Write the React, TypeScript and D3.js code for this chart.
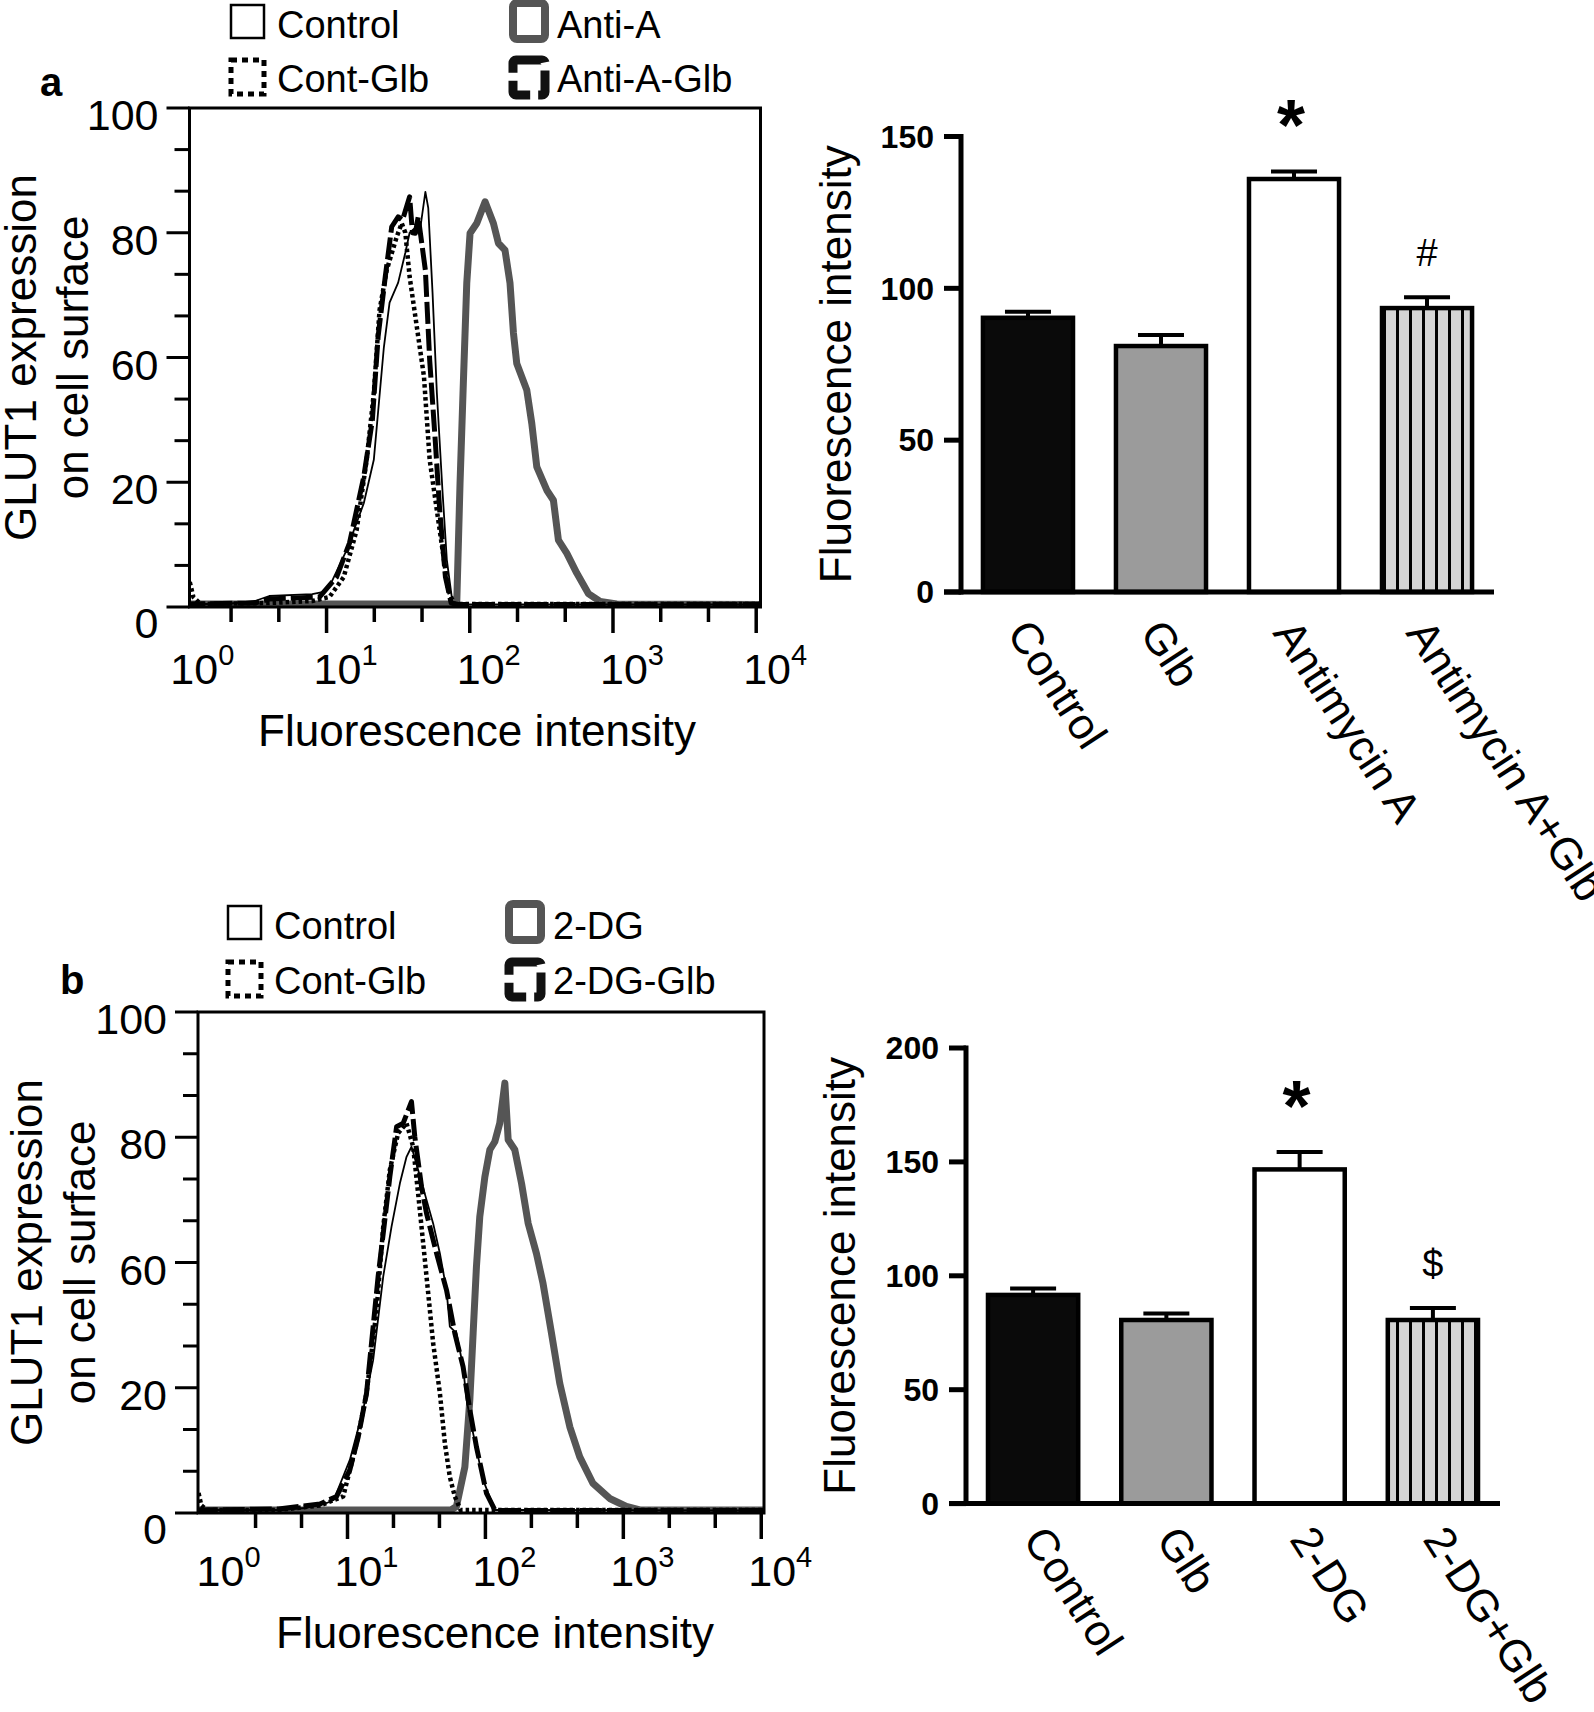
import * as d3 from "d3";

type Pt = [number, number];

const FONT = "'Liberation Sans', Arial, Helvetica, sans-serif";

// flow histograms, points are [log10 fluorescence, count]
const controlA: Pt[] = [
  [0.0, 0.6], [0.3, 0.6], [0.5, 1.2], [0.6, 2.2], [0.9, 2.6], [0.97, 3.0], [1.02, 4.1],
  [1.14, 11.4], [1.26, 20.8], [1.33, 29.5], [1.4, 52], [1.44, 61], [1.5, 65], [1.55, 71],
  [1.58, 75], [1.62, 76], [1.65, 75], [1.69, 83.2], [1.71, 80], [1.74, 63], [1.77, 43],
  [1.81, 23], [1.84, 9.4], [1.88, 0.8], [1.95, 0.5], [4.1, 0.5],
];
const contGlbA: Pt[] = [
  [0.045, 5], [0.07, 2], [0.12, 0.6], [0.6, 0.8], [0.9, 1.2], [1.02, 2], [1.12, 6],
  [1.21, 15.4], [1.28, 29.5], [1.33, 42.9], [1.37, 59.5], [1.42, 67.5], [1.49, 74.2],
  [1.525, 76.9], [1.55, 75], [1.58, 66.2], [1.63, 56.2], [1.68, 46.2], [1.72, 29.5],
  [1.77, 19.4], [1.82, 9.4], [1.85, 3.4], [1.89, 0.6], [4.1, 0.6],
];
const antiA: Pt[] = [
  [0.0, 0.6], [1.85, 0.6], [1.909, 0.7], [1.932, 24.8], [1.955, 44.8], [1.979, 64.9],
  [2.002, 74.9], [2.049, 76.9], [2.107, 81.2], [2.165, 76.9], [2.2, 72.9], [2.246, 71.5],
  [2.281, 64.9], [2.305, 54.9], [2.328, 48.8], [2.398, 43.5], [2.433, 36.8], [2.468, 28.1],
  [2.538, 23.4], [2.584, 21.4], [2.619, 13.4], [2.677, 10.8], [2.747, 6.8], [2.828, 2.7],
  [2.91, 1.1], [3.026, 0.6], [4.1, 0.5],
];
const antiGlbA: Pt[] = [
  [0.0, 0.6], [0.5, 0.8], [0.6, 1.6], [0.95, 2.0], [1.07, 6], [1.16, 12.8], [1.26, 26.1],
  [1.32, 37.5], [1.36, 54.2], [1.41, 66.2], [1.455, 76.2], [1.5, 78.2], [1.53, 77.5],
  [1.58, 82.2], [1.6, 75], [1.62, 74.9], [1.64, 78.2], [1.69, 67.5], [1.72, 49.5],
  [1.76, 32.9], [1.79, 19.4], [1.83, 6], [1.87, 0.8], [1.92, 0.5], [4.1, 0.5],
];

const controlB: Pt[] = [
  [-0.1, 0.6], [0.5, 0.6], [0.7, 1.0], [0.85, 2.0], [0.9, 2.6], [1.017, 10.6], [1.114, 20.6],
  [1.186, 30.5], [1.259, 47.2], [1.319, 57.1], [1.38, 65.8], [1.428, 71.1], [1.464, 73.1],
  [1.512, 68.5], [1.573, 62.5], [1.621, 57.8], [1.67, 51.8], [1.718, 44.5], [1.742, 37.2],
  [1.79, 35.9], [1.838, 29.2], [1.863, 22.6], [1.911, 15.9], [1.983, 6.6], [2.068, 0.6],
  [4.1, 0.5],
];
const contGlbB: Pt[] = [
  [-0.08, 4], [-0.06, 1.5], [-0.02, 0.6], [0.5, 0.6], [0.8, 1.5], [0.969, 3.3], [1.066, 13.9],
  [1.138, 23.9], [1.211, 40.5], [1.259, 57.1], [1.307, 68.5], [1.367, 75.8], [1.428, 77.8],
  [1.476, 73.1], [1.512, 63.8], [1.549, 53.8], [1.585, 43.9], [1.621, 33.9], [1.67, 23.9],
  [1.706, 13.9], [1.742, 7.2], [1.778, 3.3], [1.82, 0.6], [4.1, 0.6],
];
const dgB: Pt[] = [
  [-0.1, 0.6], [1.75, 0.6], [1.79, 1.3], [1.851, 9.2], [1.887, 22.6], [1.911, 35.9],
  [1.935, 49.2], [1.959, 59.1], [1.996, 67.1], [2.032, 72.5], [2.068, 74.1], [2.104, 77.8],
  [2.141, 85.8], [2.165, 74.5], [2.213, 72.5], [2.262, 65.8], [2.31, 57.8], [2.37, 51.8],
  [2.418, 45.8], [2.479, 35.9], [2.539, 25.9], [2.612, 17.2], [2.684, 11.2], [2.78, 5.9],
  [2.901, 2.9], [3.022, 1.3], [3.12, 0.6], [4.1, 0.6],
];
const dgGlbB: Pt[] = [
  [-0.1, 0.6], [0.5, 0.8], [0.8, 1.8], [0.921, 3.3], [1.017, 8.6], [1.078, 15.2],
  [1.138, 23.9], [1.186, 37.2], [1.222, 47.2], [1.259, 55.8], [1.307, 67.1], [1.356, 77.1],
  [1.404, 77.8], [1.464, 82.1], [1.488, 75.1], [1.537, 65.1], [1.573, 59.8], [1.646, 51.8],
  [1.718, 44.5], [1.778, 35.9], [1.838, 29.2], [1.887, 20.6], [1.935, 13.2], [2.008, 3.9],
  [2.07, 0.5], [4.1, 0.5],
];

const legendA = ["Control", "Cont-Glb", "Anti-A", "Anti-A-Glb"];
const legendB = ["Control", "Cont-Glb", "2-DG", "2-DG-Glb"];

// five evenly spaced major ticks, labelled as printed on the figure
const histYTicks = [0, 25, 50, 75, 100];
const histYLabels = ["0", "20", "60", "80", "100"];

const barCatsA = ["Control", "Glb", "Antimycin A", "Antimycin A+Glb"];
const barMeansA = [90.3, 81, 136, 93.5];
const barErrA = [2, 3.6, 2.5, 3.6];
const barMarksA = ["", "", "*", "#"];
const barTicksA = [0, 50, 100, 150];

const barCatsB = ["Control", "Glb", "2-DG", "2-DG+Glb"];
const barMeansB = [91.6, 80.6, 146.7, 80.6];
const barErrB = [2.8, 2.8, 7.6, 5.3];
const barMarksB = ["", "", "*", "$"];
const barTicksB = [0, 50, 100, 150, 200];

const barFills = ["#0a0a0a", "#9b9b9b", "#ffffff", "url(#stripes)"];

// control, +Glb, treated, treated+Glb
const traceStyle = [
  { stroke: "#000", width: 1.8, dash: undefined },
  { stroke: "#000", width: 4.5, dash: "3.5 3" },
  { stroke: "#555", width: 7, dash: undefined },
  { stroke: "#000", width: 5, dash: "22 5" },
];
const drawOrder = [2, 3, 1, 0];

type HistProps = {
  id: string;
  letter: string;
  letterX: number;
  letterY: number;
  traces: Pt[][];
  legend: string[];
  legendX: number[];
  legendY: number[];
  left: number;
  right: number;
  top: number;
  bottom: number;
  expLo: number;
  expHi: number;
  yTitleX: number[];
  xTitleX: number;
  xTitleY: number;
  xLabelY: number;
};

const LegendIcon = ({ i, x, y }: { i: number; x: number; y: number }) => {
  if (i === 0)
    return <rect x={x + 2} y={y} width={33} height={33} fill="#fff" stroke="#000" strokeWidth={2.5} />;
  if (i === 1)
    return (
      <rect x={x + 2} y={y + 1} width={33} height={34} fill="none" stroke="#000" strokeWidth={5} strokeDasharray="6 5" />
    );
  if (i === 2)
    return (
      <rect x={x + 4} y={y - 2} width={32} height={36} rx={4} fill="none" stroke="#555" strokeWidth={8} />
    );
  return (
    <rect x={x + 4} y={y + 1} width={32} height={35} rx={3} fill="none" stroke="#111" strokeWidth={9} strokeDasharray="30 8" />
  );
};

const Histogram = (p: HistProps) => {
  const x = d3.scaleLog().domain([10 ** p.expLo, 10 ** p.expHi]).range([p.left, p.right]);
  const y = d3.scaleLinear().domain([0, 100]).range([p.bottom, p.top]);
  const line = d3
    .line<Pt>()
    .x((d) => x(10 ** d[0]))
    .y((d) => y(d[1]));

  const minorY = d3.range(13).filter((i) => i % 3).map((i) => (i * 25) / 3);
  const xTicks = d3
    .range(1, 13)
    .map((k) => ({ e: k / 3, major: k % 3 === 0 }))
    .filter((t) => t.e >= p.expLo && t.e <= p.expHi + 0.001);
  const decades = [0, 1, 2, 3, 4];
  const midY = (p.top + p.bottom) / 2;

  return (
    <g>
      <defs>
        <clipPath id={p.id}>
          <rect x={p.left} y={p.top} width={p.right - p.left} height={p.bottom - p.top} />
        </clipPath>
      </defs>

      {/* legend */}
      {p.legend.map((name, i) => {
        const col = i < 2 ? 0 : 1;
        const row = i % 2;
        const bx = p.legendX[col];
        const by = p.legendY[row];
        return (
          <g key={name + i}>
            <LegendIcon i={i} x={bx} y={by - 33} />
            <text x={bx + 48} y={by} fontSize={38}>
              {name}
            </text>
          </g>
        );
      })}

      <text x={p.letterX} y={p.letterY} fontSize={40} fontWeight="bold">
        {p.letter}
      </text>

      {/* traces */}
      <g clipPath={`url(#${p.id})`}>
        {drawOrder.map((i) => (
          <path
            key={i}
            d={line(p.traces[i]) || ""}
            fill="none"
            stroke={traceStyle[i].stroke}
            strokeWidth={traceStyle[i].width}
            strokeDasharray={traceStyle[i].dash}
            strokeLinejoin="round"
          />
        ))}
      </g>

      <rect
        x={p.left}
        y={p.top}
        width={p.right - p.left}
        height={p.bottom - p.top}
        fill="none"
        stroke="#000"
        strokeWidth={3}
      />

      {/* y axis */}
      {histYTicks.map((t, i) => (
        <g key={t}>
          <line x1={p.left - 23} x2={p.left} y1={y(t)} y2={y(t)} stroke="#000" strokeWidth={3} />
          <text
            x={p.left - 31}
            y={y(t) + (t === 0 ? 16 : 7)}
            dy="0.35em"
            textAnchor="end"
            fontSize={43}
          >
            {histYLabels[i]}
          </text>
        </g>
      ))}
      {minorY.map((t) => (
        <line key={t} x1={p.left - 15} x2={p.left} y1={y(t)} y2={y(t)} stroke="#000" strokeWidth={3} />
      ))}

      {/* x axis */}
      {xTicks.map((t) => (
        <line
          key={t.e}
          x1={x(10 ** t.e)}
          x2={x(10 ** t.e)}
          y1={p.bottom}
          y2={p.bottom + (t.major ? 26 : 15)}
          stroke="#000"
          strokeWidth={3.5}
        />
      ))}
      {decades.map((k) => (
        <text key={k} x={x(10 ** k) - 13} y={p.xLabelY} fontSize={43}>
          10
          <tspan dy={-19} fontSize={29}>
            {k}
          </tspan>
        </text>
      ))}

      <text x={p.xTitleX} y={p.xTitleY} textAnchor="middle" fontSize={44}>
        Fluorescence intensity
      </text>
      <text transform={`translate(${p.yTitleX[0]},${midY}) rotate(-90)`} textAnchor="middle" fontSize={44}>
        GLUT1 expression
      </text>
      <text transform={`translate(${p.yTitleX[1]},${midY}) rotate(-90)`} textAnchor="middle" fontSize={44}>
        on cell surface
      </text>
    </g>
  );
};

type BarProps = {
  cats: string[];
  means: number[];
  errs: number[];
  marks: string[];
  ticks: number[];
  axisX: number;
  right: number;
  top: number;
  base: number;
  titleX: number;
  catDx: number;
  catDy: number;
};

const BarPanel = (p: BarProps) => {
  const yMax = p.ticks[p.ticks.length - 1];
  const y = d3.scaleLinear().domain([0, yMax]).range([p.base, p.top]);
  const x = d3.scaleBand<string>().domain(p.cats).range([p.axisX, p.right]).paddingInner(0.323).paddingOuter(0.165);
  const bw = x.bandwidth();

  return (
    <g>
      {p.cats.map((c, i) => {
        const cx = (x(c) || 0) + bw / 2;
        const errTop = y(p.means[i] + p.errs[i]);
        const mark = p.marks[i];
        return (
          <g key={c}>
            <line x1={cx} x2={cx} y1={y(p.means[i])} y2={errTop} stroke="#000" strokeWidth={4} />
            <line x1={cx - 23} x2={cx + 23} y1={errTop} y2={errTop} stroke="#000" strokeWidth={4} />
            <rect
              x={x(c)}
              y={y(p.means[i])}
              width={bw}
              height={p.base - y(p.means[i])}
              fill={barFills[i]}
              stroke="#000"
              strokeWidth={4.5}
            />
            {mark === "*" && (
              <text x={cx - 3} y={errTop - 62 + 41} textAnchor="middle" fontSize={72} fontWeight="bold">
                *
              </text>
            )}
            {mark && mark !== "*" && (
              <text x={cx} y={errTop - 44 + 13} textAnchor="middle" fontSize={38}>
                {mark}
              </text>
            )}
            <text
              transform={`translate(${cx + p.catDx},${p.base + p.catDy}) rotate(57)`}
              fontSize={44}
            >
              {c}
            </text>
          </g>
        );
      })}

      <line x1={p.axisX} x2={p.axisX} y1={p.base} y2={p.top} stroke="#000" strokeWidth={5} strokeLinecap="square" />
      <line x1={p.axisX - 17} x2={p.right} y1={p.base} y2={p.base} stroke="#000" strokeWidth={5} />
      {p.ticks.map((t) => (
        <g key={t}>
          <line x1={p.axisX - 17} x2={p.axisX} y1={y(t)} y2={y(t)} stroke="#000" strokeWidth={5} />
          <text x={p.axisX - 27} y={y(t)} dy="0.35em" textAnchor="end" fontSize={32} fontWeight="bold">
            {t}
          </text>
        </g>
      ))}
      <text
        transform={`translate(${p.titleX},${(p.top + p.base) / 2}) rotate(-90)`}
        textAnchor="middle"
        fontSize={44}
      >
        Fluorescence intensity
      </text>
    </g>
  );
};

export default function App() {
  return (
    <div style={{ position: "absolute", left: 0, top: 0 }}>
      <svg width={1594} height={1712} viewBox="0 0 1594 1712" fontFamily={FONT} style={{ display: "block", background: "#fff" }}>
        <defs>
          <pattern id="stripes" patternUnits="userSpaceOnUse" width={13} height={20}>
            <rect width={13} height={20} fill="#d4d4d4" />
            <rect x={5} width={3} height={20} fill="#000" />
          </pattern>
        </defs>

        <Histogram
          id="clipA"
          letter="a"
          letterX={40}
          letterY={96}
          traces={[controlA, contGlbA, antiA, antiGlbA]}
          legend={legendA}
          legendX={[229, 509]}
          legendY={[38, 92]}
          left={189.5}
          right={760.5}
          top={108}
          bottom={607}
          expLo={0.043}
          expHi={4.03}
          yTitleX={[36, 88]}
          xTitleX={477}
          xTitleY={746}
          xLabelY={684}
        />
        <BarPanel
          cats={barCatsA}
          means={barMeansA}
          errs={barErrA}
          marks={barMarksA}
          ticks={barTicksA}
          axisX={961}
          right={1494}
          top={136.5}
          base={592}
          titleX={851}
          catDx={-22}
          catDy={41}
        />

        <Histogram
          id="clipB"
          letter="b"
          letterX={60}
          letterY={994}
          traces={[controlB, contGlbB, dgB, dgGlbB]}
          legend={legendB}
          legendX={[226, 505]}
          legendY={[939, 994]}
          left={198}
          right={764}
          top={1012}
          bottom={1513}
          expLo={-0.084}
          expHi={4.02}
          yTitleX={[42, 95]}
          xTitleX={495}
          xTitleY={1648}
          xLabelY={1586}
        />
        <BarPanel
          cats={barCatsB}
          means={barMeansB}
          errs={barErrB}
          marks={barMarksB}
          ticks={barTicksB}
          axisX={966}
          right={1500}
          top={1048}
          base={1503.6}
          titleX={855}
          catDx={-11}
          catDy={36}
        />
      </svg>
    </div>
  );
}
